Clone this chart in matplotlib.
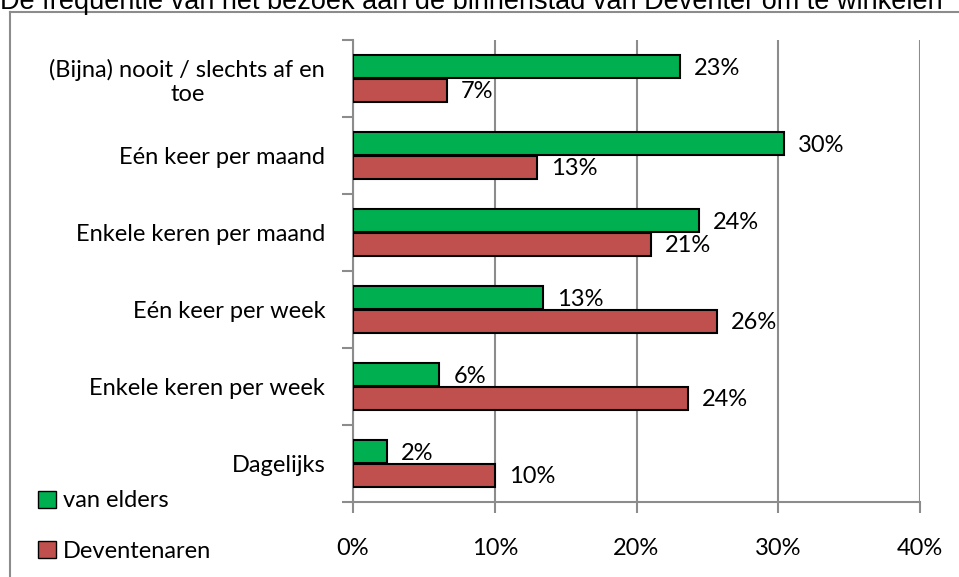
import matplotlib.pyplot as plt
from matplotlib.lines import Line2D
from matplotlib.patches import Patch
import numpy as np

categories = ["(Bijna) nooit / slechts af en\ntoe", "Eén keer per maand", "Enkele keren per maand",
              "Eén keer per week", "Enkele keren per week", "Dagelijks"]
elders = [23.1, 30.4, 24.4, 13.4, 6.1, 2.4]
deventenaren = [6.6, 13.0, 21.0, 25.7, 23.6, 10.0]
xticks = [0, 10, 20, 30, 40]

green = "#00B050"
red = "#C0504D"
grey = "#8C8C8C"
lab_font = "Lato"
fs = 17

W, H = 959, 577
fig = plt.figure(figsize=(W / 100, H / 100), dpi=100)
ax = fig.add_axes([353 / W, (H - 502) / H, (920 - 353) / W, (502 - 40) / H])

y = np.arange(len(categories))
h = 0.3
ax.barh(y - 0.152, elders, height=h, color=green, edgecolor="black", linewidth=1.5, zorder=3)
ax.barh(y + 0.152, deventenaren, height=h, color=red, edgecolor="black", linewidth=1.5, zorder=3)

for i in range(len(categories)):
    ax.annotate(f"{elders[i]:.0f}%", (elders[i], y[i] - 0.152), xytext=(10, -1),
                textcoords="offset points", va="center", ha="left", fontsize=fs, family=lab_font, zorder=5)
    ax.annotate(f"{deventenaren[i]:.0f}%", (deventenaren[i], y[i] + 0.152), xytext=(10, -1),
                textcoords="offset points", va="center", ha="left", fontsize=fs, family=lab_font, zorder=5)

ax.set_xlim(0, 40)
ax.set_ylim(len(categories) - 0.5, -0.5)
ax.set_xticks(xticks)
ax.set_xticklabels([f"{t}%" for t in xticks], fontsize=fs, family=lab_font)
ax.set_yticks(y)
ax.set_yticklabels(categories, fontsize=fs, family=lab_font, ha="right", multialignment="center")
ax.set_yticks(np.arange(-0.5, len(categories), 1), minor=True)
ax.tick_params(axis="y", which="major", length=0, pad=20)
ax.tick_params(axis="y", which="minor", length=8, color=grey, width=1.5)
ax.tick_params(axis="x", length=8, color=grey, width=1.5, direction="out", pad=18)
for lab in ax.get_yticklabels():
    lab.set_linespacing(1.15)

ax.grid(axis="x", color=grey, linewidth=1.5, zorder=0)
for s in ["top", "right"]:
    ax.spines[s].set_visible(False)
for s in ["left", "bottom"]:
    ax.spines[s].set_color(grey)
    ax.spines[s].set_linewidth(1.5)

handles = [Patch(facecolor=green, edgecolor="black", label="van elders"),
           Patch(facecolor=red, edgecolor="black", label="Deventenaren")]
fig.legend(handles=handles, loc="upper left", bbox_to_anchor=(29 / W, 1 - 481 / H), frameon=False,
           prop={"family": lab_font, "size": fs}, handlelength=0.75, handleheight=0.75,
           handletextpad=0.3, labelspacing=1.25, borderaxespad=0)

# outer chart frame
fig.add_artist(Line2D([10 / W, 10 / W], [0, 1 - 12 / H], color=grey, linewidth=1.5))
fig.add_artist(Line2D([10 / W, 1], [1 - 12 / H, 1 - 12 / H], color=grey, linewidth=1.5))

fig.text(0, 1 - 9 / H, "De frequentie van het bezoek aan de binnenstad van Deventer om te winkelen",
         family="Liberation Sans", fontsize=19.5, va="baseline", ha="left")

fig.savefig("out.png", dpi=100)
